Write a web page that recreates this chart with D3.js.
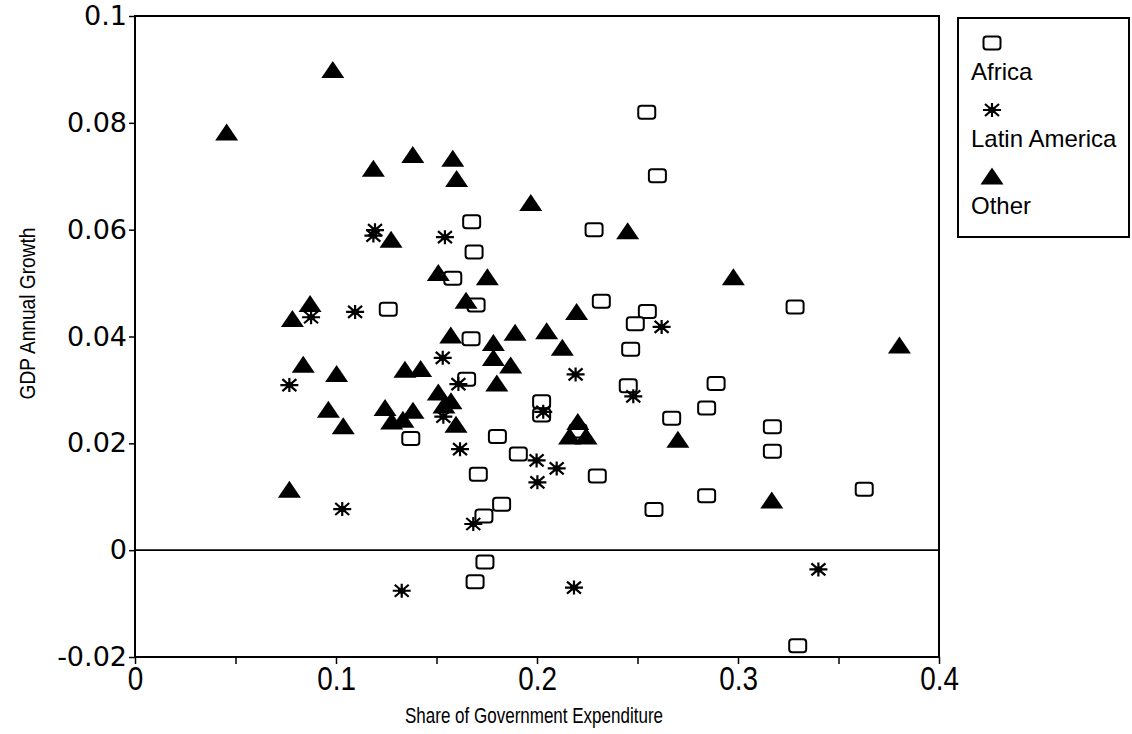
<!DOCTYPE html>
<html>
<head>
<meta charset="utf-8">
<script src="https://cdnjs.cloudflare.com/ajax/libs/d3/7.8.5/d3.min.js"></script>
<style>
  body { margin: 0; background: #fff; }
  svg { display: block; }
  .title { font-family: "Liberation Sans", Arial, sans-serif; font-size: 22px; }
  .legend-text { font-family: "Liberation Sans", Arial, sans-serif; font-size: 24px; }
</style>
</head>
<body>
<div id="container"></div>
<script>
// Africa (open squares)
var africaX = [0.2546, 0.2599, 0.1675, 0.2284, 0.1687, 0.1581, 0.1697, 0.2320, 0.2549, 0.2489,
               0.1672, 0.2466, 0.1260, 0.1650, 0.2454, 0.2023, 0.2023, 0.2670, 0.1372, 0.1803,
               0.1907, 0.1708, 0.2300, 0.1824, 0.1736, 0.2582, 0.1741, 0.1692, 0.3284, 0.2891,
               0.2844, 0.3171, 0.3171, 0.2844, 0.3628, 0.3297, 0.2204];
var africaY = [0.0820, 0.0701, 0.0615, 0.0600, 0.0558, 0.0509, 0.0459, 0.0466, 0.0447, 0.0424,
               0.0396, 0.0376, 0.0451, 0.0320, 0.0308, 0.0278, 0.0253, 0.0247, 0.0209, 0.0213,
               0.0180, 0.0142, 0.0139, 0.0086, 0.0064, 0.0076, -0.0022, -0.0059, 0.0455, 0.0312,
               0.0266, 0.0231, 0.0185, 0.0102, 0.0114, -0.0179, 0.0223];

// Latin America (asterisks)
var latamX = [0.1194, 0.1186, 0.1542, 0.0876, 0.1095, 0.0768, 0.2620, 0.1531, 0.1609, 0.2192,
              0.2479, 0.2031, 0.1534, 0.1617, 0.1998, 0.2098, 0.2002, 0.1683, 0.1031, 0.1327,
              0.2184, 0.3400];
var latamY = [0.0599, 0.0589, 0.0586, 0.0436, 0.0446, 0.0309, 0.0418, 0.0360, 0.0311, 0.0329,
              0.0288, 0.0259, 0.0250, 0.0189, 0.0168, 0.0153, 0.0127, 0.0049, 0.0077, -0.0076,
              -0.0070, -0.0036];

// Other (filled triangles)
var otherX = [0.0456, 0.0984, 0.1186, 0.1382, 0.1581, 0.1600, 0.1274, 0.1969, 0.2451, 0.1509,
              0.1753, 0.1647, 0.2197, 0.1571, 0.1783, 0.1891, 0.2048, 0.2126, 0.1783, 0.1869,
              0.1343, 0.1421, 0.1800, 0.1509, 0.1572, 0.1537, 0.1597, 0.1383, 0.2203, 0.2162,
              0.2244, 0.2701, 0.0871, 0.0783, 0.0837, 0.1003, 0.0962, 0.1036, 0.1244, 0.1277,
              0.1333, 0.0768, 0.2977, 0.3803, 0.3168];
var otherY = [0.0781, 0.0898, 0.0713, 0.0739, 0.0732, 0.0694, 0.0580, 0.0649, 0.0596, 0.0518,
              0.0510, 0.0466, 0.0445, 0.0401, 0.0387, 0.0406, 0.0409, 0.0378, 0.0359, 0.0345,
              0.0337, 0.0338, 0.0311, 0.0294, 0.0278, 0.0270, 0.0234, 0.0260, 0.0239, 0.0212,
              0.0212, 0.0206, 0.0460, 0.0432, 0.0346, 0.0329, 0.0262, 0.0231, 0.0265, 0.0240,
              0.0243, 0.0112, 0.0510, 0.0382, 0.0092];

var xTicks = [0, 0.05, 0.1, 0.15, 0.2, 0.25, 0.3, 0.35, 0.4];
var xLabels = ["0", "", "0.1", "", "0.2", "", "0.3", "", "0.4"];
var yTicks = [-0.02, 0, 0.02, 0.04, 0.06, 0.08, 0.1];
var yLabels = ["-0.02", "0", "0.02", "0.04", "0.06", "0.08", "0.1"];

var legendNames = ["Africa", "Latin America", "Other"];

var width = 1132, height = 734;
var margin = {top: 16, right: 193, bottom: 77, left: 135};

var svg = d3.select("#container").append("svg")
    .attr("width", width)
    .attr("height", height);

//Scales
var x = d3.scaleLinear()
    .domain([0, 0.4])
    .range([margin.left, width - margin.right]);

var y = d3.scaleLinear()
    .domain([-0.02, 0.1])
    .range([height - margin.bottom, margin.top]);

//Marker shapes
function drawSquare(g) {
  g.append("rect")
    .attr("x", -8.5).attr("y", -6.5)
    .attr("width", 17).attr("height", 13)
    .attr("rx", 3).attr("ry", 3)
    .attr("fill", "#fff")
    .attr("stroke", "#000")
    .attr("stroke-width", 2);
}
function drawStar(g) {
  g.append("path")
    .attr("d", "M-9,0H9M-7,-6L7,6M-7,6L7,-6M0,-7V7")
    .attr("fill", "none")
    .attr("stroke", "#000")
    .attr("stroke-width", 2.2);
  g.append("ellipse").attr("rx", 4).attr("ry", 3).attr("fill", "#000");
}
function drawTriangle(g) {
  g.append("path")
    .attr("d", "M0,-9.5L11.5,7.5L-11.5,7.5Z")
    .attr("fill", "#000");
}

//Zero line
svg.append("line")
    .attr("x1", x(0)).attr("x2", x(0.4))
    .attr("y1", y(0)).attr("y2", y(0))
    .attr("stroke", "#000")
    .attr("stroke-width", 1.6);

//Axes
var xAxis = d3.axisBottom(x)
    .tickValues(xTicks)
    .tickSize(7)
    .tickPadding(2)
    .tickFormat(function(d, i) { return xLabels[i]; });

var gx = svg.append("g")
    .attr("transform", "translate(0," + y(-0.02) + ")")
    .call(xAxis);
gx.select(".domain").remove();
gx.selectAll("line").attr("stroke-width", 1.5);
gx.selectAll("text")
    .attr("fill", "#000")
    .attr("transform", "scale(0.82,1)")
    .style("font-size", "34px")
    .style("font-family", "'Liberation Sans', Arial, sans-serif");

var yAxis = d3.axisLeft(y)
    .tickValues(yTicks)
    .tickSize(6)
    .tickPadding(2)
    .tickFormat(function(d, i) { return yLabels[i]; });

var gy = svg.append("g")
    .attr("transform", "translate(" + x(0) + ",0)")
    .call(yAxis);
gy.select(".domain").remove();
gy.selectAll("line").attr("stroke-width", 1.5);
gy.selectAll("text")
    .attr("fill", "#000")
    .style("font-size", "27px")
    .style("font-family", "'DejaVu Sans', sans-serif");

//Points: squares first, then triangles, then asterisks
var africa = africaX.map(function(v, i) { return {x: v, y: africaY[i]}; });
var latam = latamX.map(function(v, i) { return {x: v, y: latamY[i]}; });
var other = otherX.map(function(v, i) { return {x: v, y: otherY[i]}; });

svg.append("g").selectAll("g")
    .data(africa)
    .enter()
    .append("g")
    .attr("transform", function(d) { return "translate(" + x(d.x) + "," + y(d.y) + ")"; })
    .each(function() { drawSquare(d3.select(this)); });

svg.append("g").selectAll("g")
    .data(other)
    .enter()
    .append("g")
    .attr("transform", function(d) { return "translate(" + x(d.x) + "," + y(d.y) + ")"; })
    .each(function() { drawTriangle(d3.select(this)); });

svg.append("g").selectAll("g")
    .data(latam)
    .enter()
    .append("g")
    .attr("transform", function(d) { return "translate(" + x(d.x) + "," + y(d.y) + ")"; })
    .each(function() { drawStar(d3.select(this)); });

//Frame
svg.append("rect")
    .attr("x", x(0)).attr("y", y(0.1))
    .attr("width", x(0.4) - x(0))
    .attr("height", y(-0.02) - y(0.1))
    .attr("fill", "none")
    .attr("stroke", "#000")
    .attr("stroke-width", 2);

//Axis titles (condensed look via textLength)
svg.append("text")
    .attr("class", "title")
    .attr("x", (x(0) + x(0.4)) / 2 - 3)
    .attr("y", 723)
    .attr("text-anchor", "middle")
    .attr("textLength", 258)
    .attr("lengthAdjust", "spacingAndGlyphs")
    .text("Share of Government Expenditure");

svg.append("text")
    .attr("class", "title")
    .attr("transform", "translate(35," + ((y(0.1) + y(-0.02)) / 2 - 23) + ") rotate(-90)")
    .attr("text-anchor", "middle")
    .attr("textLength", 172)
    .attr("lengthAdjust", "spacingAndGlyphs")
    .text("GDP Annual Growth");

//Legend
var legend = svg.append("g").attr("class", "legend");
legend.append("rect")
    .attr("x", 958).attr("y", 18)
    .attr("width", 171).attr("height", 219)
    .attr("fill", "#fff")
    .attr("stroke", "#000")
    .attr("stroke-width", 2);

var drawers = [drawSquare, drawStar, drawTriangle];
legendNames.forEach(function(name, i) {
  var top = 43 + i * 67;
  var sym = legend.append("g").attr("transform", "translate(992," + top + ")");
  drawers[i](sym);
  legend.append("text")
    .attr("class", "legend-text")
    .attr("x", 971)
    .attr("y", top + 37)
    .text(name);
});
</script>
</body>
</html>
